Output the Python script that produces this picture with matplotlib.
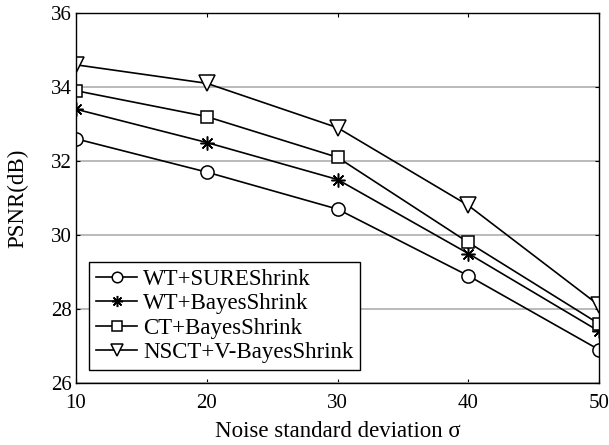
import matplotlib
matplotlib.use("Agg")
import matplotlib.pyplot as plt

plt.rcParams['font.family'] = ['Liberation Serif', 'DejaVu Serif']

sigma = [10, 20, 30, 40, 50]
wt_sure = [32.6, 31.7, 30.7, 28.9, 26.9]
wt_bayes = [33.4, 32.5, 31.5, 29.5, 27.4]
ct_bayes = [33.9, 33.2, 32.1, 29.8, 27.6]
nsct_vbayes = [34.6, 34.1, 32.9, 30.8, 28.1]

labels = ['WT+SUREShrink', 'WT+BayesShrink', 'CT+BayesShrink', 'NSCT+V-BayesShrink']
# marker, size ; asterisk drawn as 8 spokes like matlab's '*'
styles = [('o', 9.5), ((8, 2, 0), 10), ('s', 8.5), ('v', 11.5)]

fig = plt.figure(figsize=(6.09, 4.45), dpi=100)
ax = fig.add_axes([76 / 609, 1 - 383 / 445, 523 / 609, 370 / 445])

for ys, (m, ms), lab in zip([wt_sure, wt_bayes, ct_bayes, nsct_vbayes], styles, labels):
    ax.plot(sigma, ys, color='black', lw=1.2, marker=m, ms=ms,
            mfc='white', mec='black', mew=1.1, label=lab)

ax.set_xlim(10, 50)
ax.set_ylim(26, 36)
ax.set_xticks([10, 20, 30, 40, 50])
ax.set_yticks([26, 28, 30, 32, 34, 36])
ax.yaxis.grid(True, color='#b4b4b4', lw=1.3)
ax.set_axisbelow(True)
ax.tick_params(direction='in', labelsize=15, length=3, width=0.8, top=True, right=True, pad=3)
ax.tick_params(axis='x', pad=8)
for s in ax.spines.values():
    s.set_linewidth(1.0)

ax.set_xlabel('Noise standard deviation σ', fontsize=16.5, labelpad=6)
ax.set_ylabel('PSNR(dB)', fontsize=16.5, labelpad=16)

leg = ax.legend(loc='lower left', bbox_to_anchor=(13 / 523, 13 / 370), fontsize=16.5,
                frameon=True, fancybox=False, edgecolor='black', handlelength=1.8,
                handletextpad=0.25, borderpad=0.3, labelspacing=0.15, borderaxespad=0,
                markerscale=0.8)
leg.get_frame().set_linewidth(1.0)
leg.get_frame().set_alpha(1)

fig.savefig('out.png', dpi=100)
